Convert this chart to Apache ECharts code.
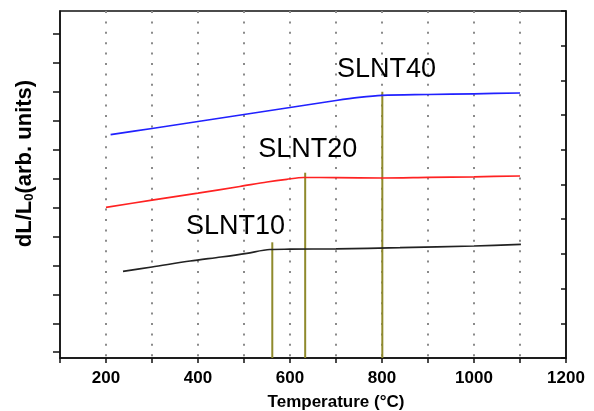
<!DOCTYPE html>
<html>
<head>
<meta charset="utf-8">
<script src="https://cdn.jsdelivr.net/npm/echarts@6/dist/echarts.min.js"></script>
<style>
  html, body { margin: 0; padding: 0; background: #fff; }
  #chart { width: 594px; height: 411px; }
</style>
</head>
<body>
<div id="chart"></div>
<script>
  // dilatometer curves, offset vertically (arb. units on a 0..10 scale)
  const blueTemp = [210, 300, 400, 500, 600, 700, 750, 800, 900, 1000, 1100];
  const blueVal = [6.435, 6.614, 6.816, 7.017, 7.219, 7.421, 7.51, 7.57, 7.594, 7.614, 7.637];

  const redTemp = [200, 300, 400, 491, 550, 593, 630, 700, 800, 900, 1000, 1100];
  const redVal = [4.343, 4.548, 4.749, 4.942, 5.072, 5.150, 5.202, 5.199, 5.187, 5.205, 5.222, 5.245];

  const blackTemp = [237, 300, 383, 450, 506, 556, 600, 700, 839, 1000, 1102];
  const blackVal = [2.499, 2.622, 2.795, 2.911, 3.017, 3.127, 3.135, 3.147, 3.179, 3.228, 3.274];

  // transition markers (temperature, height of the marker line)
  const markTemp = [561.5, 633, 800.7];
  const markTop = [3.334, 5.34, 7.67];

  // sample names and where they are written
  const sampleNames = ['SLNT10', 'SLNT20', 'SLNT40'];
  const nameTemp = [481.5, 638.7, 809.8];
  const nameVal = [3.795, 6.0, 8.32];

  const leftTicks = [0, 1, 2, 3, 4, 5, 6, 7, 8, 9, 10, 11];

  const font = '"Liberation Sans", Arial, sans-serif';
  const zip = (a, b) => a.map((v, i) => [v, b[i]]);

  const chart = echarts.init(document.getElementById('chart'));

  const markSeries = markTemp.map((t, i) => ({
    type: 'line',
    yAxisIndex: 1,
    data: [[t, 0], [t, markTop[i]]],
    symbol: 'none',
    lineStyle: { color: '#8f8a2c', width: 2 },
    z: 3
  }));

  chart.setOption({
    animation: false,
    grid: {
      left: 60, right: 28, top: 11, bottom: 53,
      outerBoundsMode: 'none',
      containLabel: false,
      show: true, borderColor: '#111', borderWidth: 1.5
    },
    xAxis: {
      type: 'value',
      min: 100, max: 1200, interval: 100,
      name: 'Temperature (°C)',
      nameLocation: 'middle',
      nameGap: 36,
      nameTextStyle: {
        fontFamily: font, fontWeight: 'bold', fontSize: 17, color: '#000',
        padding: [0, 0, 0, 46]
      },
      axisLine: { onZero: false, lineStyle: { color: '#111', width: 1.5 } },
      axisTick: { inside: false, length: 5, lineStyle: { color: '#111', width: 1.5 } },
      axisLabel: {
        margin: 12,
        fontFamily: font, fontWeight: 'bold', fontSize: 17, color: '#000',
        formatter: v => (v % 200 === 0 ? String(v) : '')
      },
      splitLine: {
        show: true, showMinLine: false, showMaxLine: false,
        lineStyle: { color: '#8a8a8a', width: 2, type: [2, 8.4] }
      }
    },
    yAxis: [
      {
        type: 'value',
        position: 'left',
        min: -0.2, max: 11.8,
        name: 'dL/L{sub|0}(arb. units)',
        nameLocation: 'middle',
        nameRotate: 90,
        nameGap: 24,
        nameTextStyle: {
          fontFamily: font, fontWeight: 'bold', fontSize: 22, color: '#000',
          padding: [0, 0, 0, 42],
          rich: {
            sub: { fontFamily: font, fontWeight: 'bold', fontSize: 13, color: '#000', verticalAlign: 'bottom', padding: [9, 0, 0, 0] }
          }
        },
        axisLine: { show: true, onZero: false, lineStyle: { color: '#111', width: 1.5 } },
        axisTick: { show: true, inside: false, length: 7, customValues: leftTicks, lineStyle: { color: '#111', width: 1.5 } },
        axisLabel: { show: false },
        splitLine: { show: false }
      },
      {
        type: 'value',
        position: 'right',
        min: 0, max: 10, interval: 1,
        axisLine: { show: true, onZero: false, lineStyle: { color: '#111', width: 1.5 } },
        axisTick: { show: true, inside: true, length: 5, lineStyle: { color: '#111', width: 1.5 } },
        axisLabel: { show: false },
        splitLine: { show: false }
      }
    ],
    series: [
      {
        type: 'line', yAxisIndex: 1, data: zip(blueTemp, blueVal),
        symbol: 'none', smooth: 0.3,
        lineStyle: { color: '#2121ff', width: 1.7 }, z: 4
      },
      {
        type: 'line', yAxisIndex: 1, data: zip(redTemp, redVal),
        symbol: 'none', smooth: 0.3,
        lineStyle: { color: '#ff2222', width: 1.7 }, z: 4
      },
      {
        type: 'line', yAxisIndex: 1, data: zip(blackTemp, blackVal),
        symbol: 'none', smooth: 0.3,
        lineStyle: { color: '#222222', width: 1.7 }, z: 4
      },
      ...markSeries,
      {
        type: 'scatter', yAxisIndex: 1,
        data: nameTemp.map((t, i) => ({ value: [t, nameVal[i]], name: sampleNames[i] })),
        symbolSize: 0,
        itemStyle: { opacity: 1 },
        label: {
          show: true, position: 'inside',
          formatter: p => p.name,
          fontFamily: font, fontSize: 27, color: '#000',
          textBorderWidth: 0, textBorderColor: 'transparent'
        },
        z: 5
      }
    ]
  });

  window.addEventListener('resize', () => { chart.resize(); });
</script>
</body>
</html>
